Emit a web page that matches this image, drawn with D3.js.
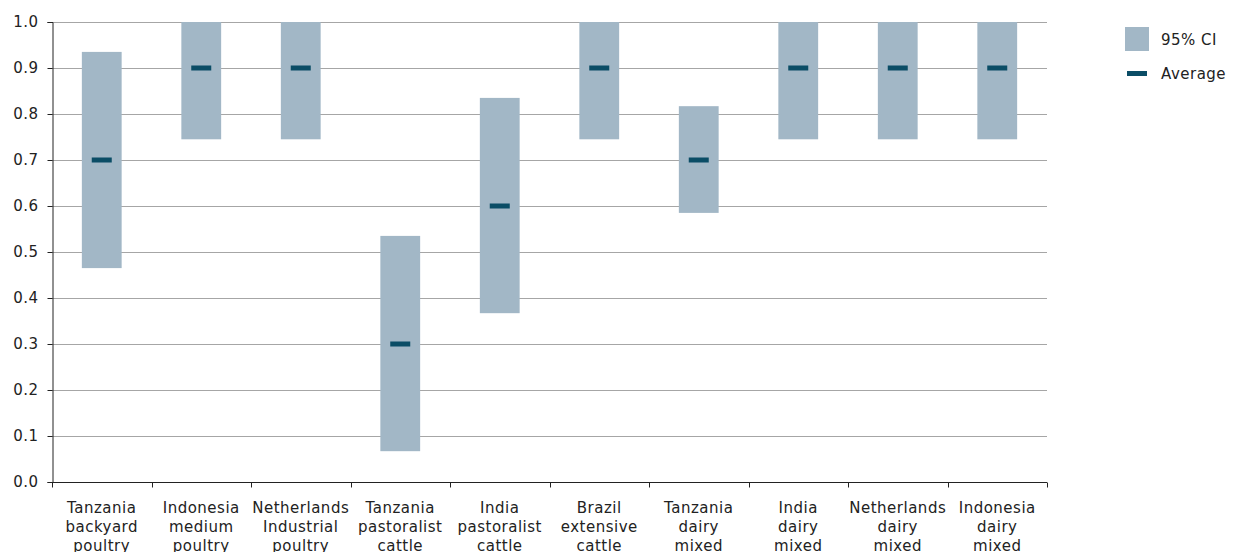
<!DOCTYPE html>
<html><head><meta charset="utf-8">
<script src="https://cdn.jsdelivr.net/npm/d3@7"></script>
<style>body{margin:0;background:#fff;}svg{display:block;font-family:Verdana,"DejaVu Sans",sans-serif;}</style>
</head><body><svg id="c" width="1237" height="552"></svg>
<script>
const categories = [
  ["Tanzania","backyard","poultry"],
  ["Indonesia","medium","poultry"],
  ["Netherlands","Industrial","poultry"],
  ["Tanzania","pastoralist","cattle"],
  ["India","pastoralist","cattle"],
  ["Brazil","extensive","cattle"],
  ["Tanzania","dairy","mixed"],
  ["India","dairy","mixed"],
  ["Netherlands","dairy","mixed"],
  ["Indonesia","dairy","mixed"]
];
const ciLow  = [0.465, 0.745, 0.745, 0.067, 0.367, 0.745, 0.585, 0.745, 0.745, 0.745];
const ciHigh = [0.935, 1.0, 1.0, 0.535, 0.835, 1.0, 0.817, 1.0, 1.0, 1.0];
const average = [0.7, 0.9, 0.9, 0.3, 0.6, 0.9, 0.7, 0.9, 0.9, 0.9];
const yTicks = [0,0.1,0.2,0.3,0.4,0.5,0.6,0.7,0.8,0.9,1.0];
const legendLabels = ["95% CI","Average"];

(function(){
const svg = d3.select("#c");
const pL=52, pR=1047, pT=22, pB=482;
const FONT='Verdana,"DejaVu Sans",sans-serif';
const FS="15px", LS="0.5px";
const x = d3.scaleBand().domain(d3.range(categories.length)).range([pL,pR]).paddingInner(0).paddingOuter(0);
const y = d3.scaleLinear().domain([0,1]).range([pB,pT]);
const ciColor="#a2b7c6", avgColor="#0b4d66";

svg.append("g").selectAll("line").data(yTicks.filter(d=>d>0)).join("line")
  .attr("x1",pL).attr("x2",pR).attr("y1",d=>Math.round(y(d))+0.5).attr("y2",d=>Math.round(y(d))+0.5)
  .attr("stroke","#a6a6a6").attr("stroke-width",1);

const bw = x.bandwidth()*0.4;
const idx = categories.map((c,i)=>i);
svg.append("g").selectAll("rect").data(idx).join("rect")
  .attr("x",i=>x(i)+x.bandwidth()/2-bw/2).attr("width",bw)
  .attr("y",i=>y(ciHigh[i])).attr("height",i=>y(ciLow[i])-y(ciHigh[i]))
  .attr("fill",ciColor);

svg.append("g").selectAll("rect").data(idx).join("rect")
  .attr("x",i=>x(i)+x.bandwidth()/2-10).attr("width",20)
  .attr("y",i=>y(average[i])-2.5).attr("height",5)
  .attr("fill",avgColor);

const ya = svg.append("g").attr("transform",`translate(${pL+0.5},0)`)
  .call(d3.axisLeft(y).tickValues(yTicks).tickFormat(d3.format(".1f")).tickSizeOuter(0).tickSize(5));
ya.select(".domain").attr("stroke","#222");
ya.selectAll(".tick line").attr("stroke","#222");
ya.selectAll("text").attr("font-size",FS).attr("letter-spacing",LS).attr("fill","#222").attr("font-family",FONT).attr("x",-14);

const xa = svg.append("g").attr("transform",`translate(0,${pB+0.5})`);
xa.append("line").attr("x1",pL).attr("x2",pR).attr("stroke","#222");
const tickPos = d3.range(categories.length+1).map(i=> i<categories.length ? x(i) : pR);
xa.selectAll("line.t").data(tickPos).join("line").attr("class","t")
  .attr("x1",d=>Math.round(d)+0.5).attr("x2",d=>Math.round(d)+0.5).attr("y1",0).attr("y2",5).attr("stroke","#222");
xa.selectAll("text").data(categories).join("text")
  .attr("x",(d,i)=>x(i)+x.bandwidth()/2).attr("y",30)
  .attr("text-anchor","middle").attr("font-size",FS).attr("letter-spacing",LS).attr("fill","#222")
  .selectAll("tspan").data(d=>d).join("tspan")
  .attr("x",function(){return this.parentNode.getAttribute("x");})
  .attr("dy",(d,j)=>j===0?0:19).text(d=>d);

const lg = svg.append("g");
lg.append("rect").attr("x",1125).attr("y",27).attr("width",24).attr("height",24).attr("fill",ciColor);
lg.append("rect").attr("x",1127).attr("y",71).attr("width",20).attr("height",5).attr("fill",avgColor);
lg.selectAll("text").data(legendLabels).join("text")
  .attr("x",1161).attr("y",(d,i)=>i===0?45:79).attr("font-size",FS).attr("letter-spacing",LS).attr("fill","#222").text(d=>d);
})();
</script></body></html>
